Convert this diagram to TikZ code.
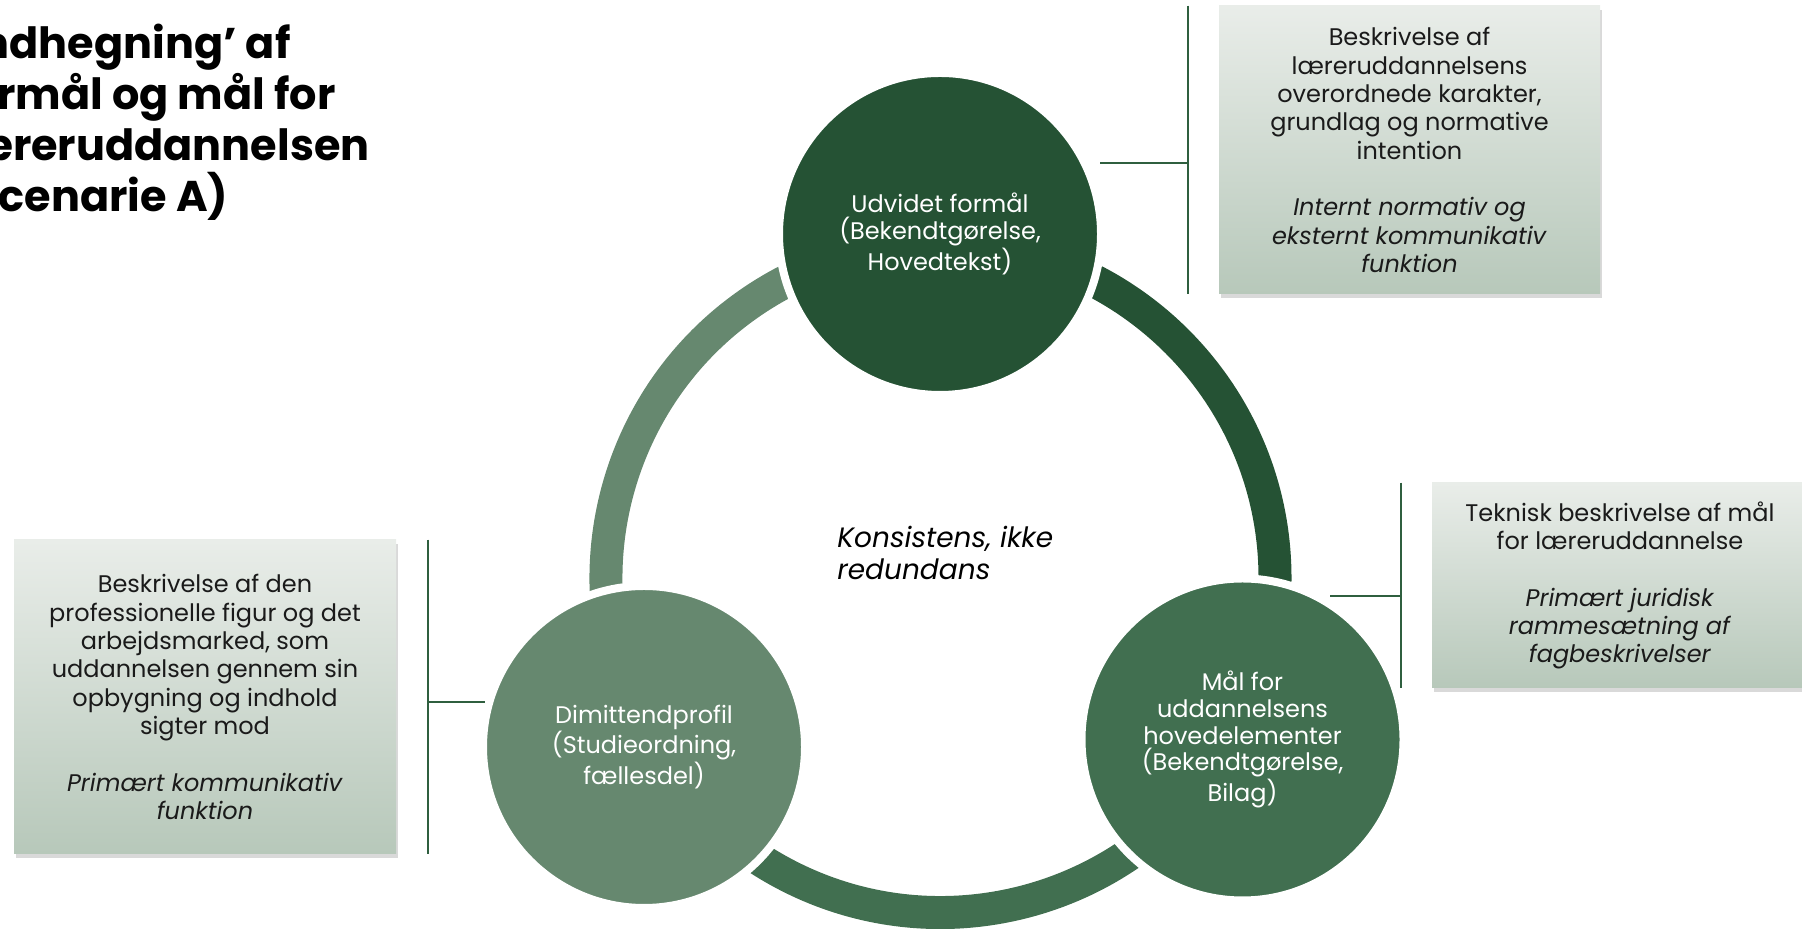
\documentclass[tikz,border=0pt]{standalone}
\usepackage{fontspec}
\setmainfont{Poppins}
\usetikzlibrary{shadows}

\definecolor{darkgr}{HTML}{255234}
\definecolor{midgr}{HTML}{416F50}
\definecolor{lightgr}{HTML}{66886F}
\definecolor{linegr}{HTML}{2F5F3F}
\definecolor{boxtop}{HTML}{E9EDE9}
\definecolor{boxbot}{HTML}{B7C8BA}
\definecolor{ink}{HTML}{1A1A1A}

\tikzset{
  bub/.style={circle, minimum size=161pt, inner sep=0pt, draw=white, line width=4pt,
    text=white, align=center, font=\fontsize{12}{13.4}\selectfont},
  note/.style={rectangle, inner sep=0pt, top color=boxtop, bottom color=boxbot,
    drop shadow={opacity=0.3, shadow xshift=1.2pt, shadow yshift=-1.8pt},
    text=ink, align=center, font=\fontsize{12}{14.2}\selectfont},
  ringarc/.style={line width=16.5pt},
  brack/.style={linegr, line width=0.9pt},
}

\begin{document}
\begin{tikzpicture}[x=0.5pt,y=0.5pt]
    \useasboundingbox (0,0) rectangle (1802,929);
    \clip (0,0) rectangle (1802,929);

    \node[anchor=base west, align=left, inner sep=0pt,
      font=\bfseries\fontsize{21.5}{25.5}\selectfont] (title) at (-46,717)
      {‘Indhegning’ af\\formål og mål for\\læreruddannelsen\\(scenarie A)};

    \coordinate (ring) at (940.5,351);
    \draw[ringarc, darkgr] (ring) ++(90:334.5) arc[start angle=90, end angle=-30, radius=334.5];
    \draw[ringarc, midgr] (ring) ++(-30:334.5) arc[start angle=-30, end angle=-150, radius=334.5];
    \draw[ringarc, lightgr] (ring) ++(210:334.5) arc[start angle=210, end angle=90, radius=334.5];

    \node[bub, fill=darkgr] (formaal) at (940,695) {Udvidet formål\\(Bekendtgørelse,\\Hovedtekst)};
    \node[bub, fill=midgr] (maal) at (1242.5,189.5) {Mål for\\uddannelsens\\hovedelementer\\(Bekendtgørelse,\\Bilag)};
    \node[bub, fill=lightgr] (dimit) at (644,182) {Dimittendprofil\\(Studieordning,\\fællesdel)};

    \node[anchor=base west, align=left, inner sep=0pt,
      font=\itshape\fontsize{14}{16}\selectfont] (konsist) at (837,349)
      {Konsistens, ikke\\redundans};

    \node[note, minimum width=190.5pt, minimum height=144pt] (fbox) at (1409.5,779)
      {Beskrivelse af\\læreruddannelsens\\overordnede karakter,\\grundlag og normative\\intention\\[14pt]
       \textit{Internt normativ og}\\\textit{eksternt kommunikativ}\\\textit{funktion}};
    \node[note, minimum width=188pt, minimum height=102.5pt] (mbox) at (1620,343.5)
      {Teknisk beskrivelse af mål\\for læreruddannelse\\[14pt]
       \textit{Primært juridisk}\\\textit{rammesætning af}\\\textit{fagbeskrivelser}};
    \node[note, minimum width=191pt, minimum height=157pt] (dbox) at (205,232)
      {Beskrivelse af den\\professionelle figur og det\\arbejdsmarked, som\\uddannelsen gennem sin\\opbygning og indhold\\sigter mod\\[14pt]
       \textit{Primært kommunikativ}\\\textit{funktion}};

    \coordinate (fv) at (1188,766);
    \coordinate (fh) at (1100,766);
    \draw[brack] (fv |- fbox.north) -- (fv |- fbox.south);
    \draw[brack] (fh) -- (fv);

    \coordinate (mv) at (1401,333);
    \coordinate (mh) at (1330,333);
    \draw[brack] (mv |- mbox.north) -- (mv |- mbox.south);
    \draw[brack] (mh) -- (mv);

    \coordinate (dv) at (428,227);
    \coordinate (dh) at (485,227);
    \draw[brack] (dv |- dbox.north) -- (dv |- dbox.south);
    \draw[brack] (dv) -- (dh);
\end{tikzpicture}
\end{document}
